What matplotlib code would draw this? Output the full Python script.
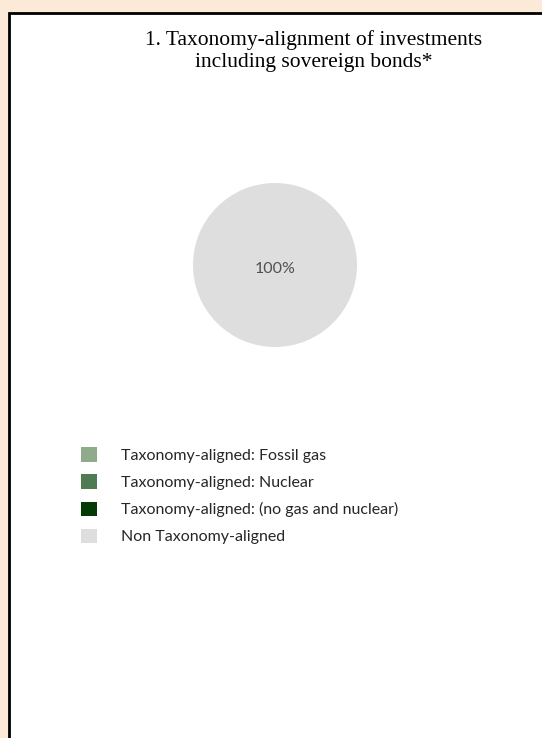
import matplotlib.pyplot as plt
from matplotlib.patches import Rectangle


plt.rcParams['font.family'] = ['Lato', 'DejaVu Sans']

title = '1. Taxonomy-alignment of investments\nincluding sovereign bonds*'
labels = [
    'Taxonomy-aligned: Fossil gas',
    'Taxonomy-aligned: Nuclear',
    'Taxonomy-aligned: (no gas and nuclear)',
    'Non Taxonomy-aligned',
]
values = [0, 0, 0, 100]
colors = ['#8fab8c', '#4f7b52', '#053a07', '#dedede']

W, H = 542, 738


def px(x, y):
    # pixel position from top-left -> figure fraction
    return x / W, 1 - y / H


fig = plt.figure(figsize=(W / 100, H / 100), dpi=100)
fig.patch.set_facecolor('#fbead8')

# white panel with a black frame on left/top
x0, y0 = px(9, 13)
fig.patches.append(Rectangle((x0, -0.05), 1.1, y0 + 0.05, transform=fig.transFigure,
                             facecolor='white', edgecolor='black', linewidth=2,
                             zorder=-1))

tx, ty = px(314, 30)
fig.text(tx, ty, title, ha='center', va='top', fontsize=15.5,
         family='Liberation Serif', linespacing=1.22, color='black')

# pie
cx, cy, r = 275, 265, 82
ax = fig.add_axes([(cx - r) / W, (H - cy - r) / H, 2 * r / W, 2 * r / H])
wedges, _, autotexts = ax.pie(
    values, colors=colors, startangle=90, counterclock=False,
    autopct=lambda p: f'{p:.0f}%' if p > 0 else '',
    pctdistance=0.05, textprops={'color': '#505050', 'fontsize': 11.5},
    wedgeprops={'linewidth': 0},
)
ax.set_xlim(-1, 1)
ax.set_ylim(-1, 1)
ax.set_aspect('equal')
ax.axis('off')

lx, ly = px(67, 433)
fig.legend(wedges, labels, loc='upper left', bbox_to_anchor=(lx, ly),
           frameon=False, fontsize=11.5, handlelength=1.0, handleheight=1.0,
           handletextpad=1.5, labelspacing=0.72, labelcolor='#262626')

fig.savefig('out.png', dpi=100, facecolor=fig.get_facecolor())
